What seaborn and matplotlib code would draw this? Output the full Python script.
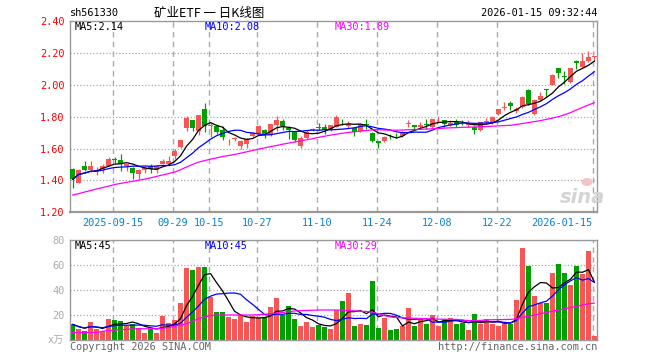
import numpy as np
import pandas as pd
import matplotlib
matplotlib.use("Agg")
import matplotlib.pyplot as plt
from matplotlib.patches import Ellipse
import seaborn as sns

# ---------------- data ----------------
open_ = [1.471, 1.385, 1.489, 1.464, 1.454, 1.472, 1.489, 1.535, 1.527, 1.489,
         1.479, 1.439, 1.464, 1.489, 1.464, 1.506, 1.506, 1.552, 1.610, 1.729,
         1.777, 1.710, 1.846, 1.740, 1.739, 1.718, 1.640, 1.660, 1.614, 1.631,
         1.677, 1.694, 1.718, 1.683, 1.746, 1.770, 1.729, 1.704, 1.614, 1.668,
         1.714, 1.735, 1.737, 1.715, 1.735, 1.768, 1.740, 1.731, 1.710, 1.754,
         1.698, 1.646, 1.650, 1.685, 1.691, 1.679, 1.754, 1.746, 1.735, 1.754,
         1.735, 1.796, 1.781, 1.746, 1.770, 1.767, 1.750, 1.737, 1.716, 1.768,
         1.762, 1.814, 1.854, 1.885, 1.835, 1.860, 1.969, 1.814, 1.902, 1.975,
         1.996, 2.106, 2.052, 2.017, 2.152, 2.110, 2.152, 2.173]
high = [1.479, 1.473, 1.520, 1.520, 1.485, 1.502, 1.548, 1.548, 1.564, 1.506,
        1.485, 1.469, 1.489, 1.506, 1.496, 1.537, 1.554, 1.594, 1.656, 1.802,
        1.781, 1.808, 1.885, 1.760, 1.745, 1.739, 1.662, 1.673, 1.656, 1.669,
        1.704, 1.745, 1.725, 1.756, 1.802, 1.783, 1.739, 1.708, 1.677, 1.714,
        1.731, 1.760, 1.756, 1.750, 1.808, 1.783, 1.770, 1.737, 1.756, 1.783,
        1.704, 1.646, 1.677, 1.689, 1.698, 1.710, 1.781, 1.746, 1.766, 1.783,
        1.787, 1.804, 1.781, 1.777, 1.787, 1.777, 1.777, 1.743, 1.768, 1.793,
        1.802, 1.850, 1.891, 1.896, 1.860, 1.927, 1.971, 1.912, 1.954, 1.975,
        2.069, 2.106, 2.089, 2.106, 2.158, 2.200, 2.214, 2.183]
low = [1.354, 1.381, 1.460, 1.452, 1.433, 1.448, 1.489, 1.512, 1.460, 1.460,
       1.412, 1.406, 1.448, 1.444, 1.448, 1.502, 1.502, 1.537, 1.606, 1.710,
       1.710, 1.683, 1.704, 1.675, 1.690, 1.656, 1.621, 1.648, 1.596, 1.604,
       1.673, 1.690, 1.669, 1.677, 1.710, 1.714, 1.662, 1.641, 1.604, 1.662,
       1.708, 1.714, 1.693, 1.708, 1.735, 1.746, 1.729, 1.677, 1.704, 1.725,
       1.641, 1.604, 1.642, 1.660, 1.668, 1.673, 1.735, 1.714, 1.725, 1.725,
       1.731, 1.766, 1.735, 1.740, 1.735, 1.746, 1.735, 1.693, 1.710, 1.756,
       1.756, 1.808, 1.839, 1.839, 1.823, 1.856, 1.874, 1.808, 1.896, 1.923,
       1.996, 2.044, 2.002, 2.010, 2.100, 2.110, 2.142, 2.152]
close = [1.406, 1.468, 1.464, 1.489, 1.468, 1.489, 1.533, 1.531, 1.502, 1.502,
         1.448, 1.464, 1.479, 1.469, 1.489, 1.523, 1.523, 1.585, 1.652, 1.791,
         1.731, 1.808, 1.739, 1.746, 1.704, 1.673, 1.642, 1.662, 1.648, 1.662,
         1.698, 1.739, 1.683, 1.752, 1.777, 1.739, 1.714, 1.656, 1.666, 1.704,
         1.725, 1.731, 1.714, 1.746, 1.798, 1.764, 1.752, 1.702, 1.752, 1.750,
         1.648, 1.637, 1.673, 1.683, 1.689, 1.704, 1.756, 1.735, 1.750, 1.750,
         1.783, 1.798, 1.752, 1.762, 1.750, 1.764, 1.752, 1.716, 1.764, 1.770,
         1.798, 1.845, 1.856, 1.866, 1.850, 1.923, 1.881, 1.902, 1.927, 1.969,
         2.062, 2.075, 2.048, 2.104, 2.135, 2.152, 2.173, 2.179]
volume = [12.5, 9, 7, 14.4, 9, 7, 17, 16, 15, 11,
          13, 10, 6, 9, 6, 19, 14, 16, 30, 58,
          56, 58.5, 58.5, 34.5, 22.5, 22.5, 18.5, 17, 20, 14.5,
          19, 17.6, 18.5, 26.5, 33.6, 20, 27, 17, 11, 14.4,
          10.4, 12, 10.4, 9, 24, 31.5, 38, 11, 13, 12,
          47, 10, 18, 8, 9, 11, 26, 11, 16.5, 13,
          20, 11, 16.5, 17.6, 13, 14, 8, 21, 13, 17,
          13, 11, 13.6, 13, 32, 74, 59, 35, 30, 30,
          54, 61, 54, 44, 59, 53, 71.5, 3]
# 30-day averages as drawn (they depend on days before the visible window)
ma30_price = [1.308, 1.317, 1.327, 1.336, 1.346, 1.355, 1.364, 1.374, 1.381, 1.388,
              1.394, 1.401, 1.408, 1.416, 1.425, 1.434, 1.443, 1.452, 1.467, 1.484,
              1.500, 1.515, 1.524, 1.533, 1.541, 1.550, 1.556, 1.563, 1.571, 1.579,
              1.588, 1.596, 1.604, 1.612, 1.619, 1.627, 1.634, 1.641, 1.648, 1.655,
              1.662, 1.670, 1.677, 1.684, 1.690, 1.696, 1.701, 1.705, 1.709, 1.713,
              1.717, 1.718, 1.716, 1.715, 1.715, 1.716, 1.718, 1.719, 1.721, 1.722,
              1.724, 1.726, 1.728, 1.730, 1.731, 1.733, 1.734, 1.735, 1.737, 1.738,
              1.740, 1.742, 1.744, 1.746, 1.751, 1.757, 1.763, 1.769, 1.775, 1.783,
              1.791, 1.800, 1.812, 1.825, 1.842, 1.858, 1.873, 1.888]
ma30_volume = [6, 6, 6, 6, 6, 7, 7.5, 8, 8.3, 8.5,
               8.8, 9, 9, 9, 9, 9.5, 10, 11, 12, 13,
               15, 17, 18.5, 19.5, 20, 20, 20, 20, 20, 20,
               20, 20.3, 20.6, 21, 21.5, 22, 22.7, 23.2, 23.5, 23.7,
               23.8, 24, 24, 24, 24, 23.8, 23.5, 23.3, 23, 22.8,
               22.3, 21, 19.5, 18.5, 18, 17.8, 17.6, 17.4, 17.2, 17,
               16.8, 16.7, 16.6, 16.5, 16.5, 16, 15.5, 15.5, 15.7, 16,
               16.2, 16.3, 16.4, 16.5, 17, 18, 19, 20, 21, 22,
               23, 24, 25, 26, 27, 28, 29, 29.5]
holidays = ["2025-10-01", "2025-10-02", "2025-10-03", "2025-10-06", "2025-10-07",
            "2025-10-08", "2026-01-01", "2026-01-02"]
tick_dates = ["2025-09-15", "2025-09-29", "2025-10-15", "2025-10-27", "2025-11-10",
              "2025-11-24", "2025-12-08", "2025-12-22", "2026-01-15"]
tick_labels = ["2025-09-15", "09-29", "10-15", "10-27", "11-10",
               "11-24", "12-08", "12-22", "2026-01-15"]
price_ticks = [1.20, 1.40, 1.60, 1.80, 2.00, 2.20, 2.40]
vol_ticks = [20, 40, 60, 80]
ma_price_labels = ["MA5:2.14", "MA10:2.08", "MA30:1.89"]
ma_vol_labels = ["MA5:45", "MA10:45", "MA30:29"]
code = "sh561330"
title = "矿业ETF 一 日K线图"
stamp = "2026-01-15 09:32:44"

# ---------------- styling ----------------
sns.set_theme(style="white")
plt.rcParams["font.family"] = ["DejaVu Sans Mono", "Noto Sans CJK SC"]
RED = "#f85656"
GREEN = "#00a000"
GRID = "#aaaaaa"
FS = 7.4

W, H = 660, 360
fig = plt.figure(figsize=(W / 100, H / 100), dpi=100)
fig.patch.set_facecolor("white")


def fx(x):
    return x / W


def fy(y):
    return 1 - y / H


L, R = 70, 597
ax = fig.add_axes([fx(L), fy(212.3), (R - L) / W, (212.3 - 21) / H])
axv = fig.add_axes([fx(L), fy(340), (R - L) / W, 100 / H])

dates = pd.bdate_range("2025-09-04", "2026-01-15")
dates = dates[~dates.isin(pd.to_datetime(holidays))]
df = pd.DataFrame(dict(date=dates, open=open_, high=high, low=low,
                       close=close, volume=volume,
                       ma30=ma30_price, vma30=ma30_volume))
df["i"] = np.arange(len(df))
df["dir"] = np.where(df["close"] >= df["open"], "up", "down")
df["ma5"] = df["close"].rolling(5, min_periods=1).mean()
df["ma10"] = df["close"].rolling(10, min_periods=1).mean()
df["vma5"] = df["volume"].rolling(5, min_periods=1).mean()
df["vma10"] = df["volume"].rolling(10, min_periods=1).mean()
colors = np.where(df["dir"] == "up", RED, GREEN)

xmin, xmax = -0.42, len(df) - 1 + 0.42
tick_pos = [int(df.index[df["date"] == pd.Timestamp(d)][0]) - 0.3 for d in tick_dates]

# ---------------- price panel ----------------
for a in (ax, axv):
    for p in tick_pos:
        a.axvline(p, color=GRID, lw=1.0, ls=(0, (4, 3)), zorder=0)
for t in price_ticks[1:-1]:
    ax.axhline(t, color=GRID, lw=0.9, ls=(0, (1, 1.6)), zorder=0)

ax.vlines(df["i"], df["low"], df["high"], colors=colors, lw=0.9, zorder=2)
body_low = np.minimum(df["open"], df["close"])
body_h = np.maximum((df["close"] - df["open"]).abs(), 0.004)
ax.bar(df["i"], body_h, bottom=body_low, width=0.78, color=colors, lw=0, zorder=3)

sns.lineplot(data=df, x="i", y="ma5", color="black", lw=0.9, ax=ax, estimator=None, zorder=4)
sns.lineplot(data=df, x="i", y="ma10", color="#0000ff", lw=0.9, ax=ax, estimator=None, zorder=4)
sns.lineplot(data=df, x="i", y="ma30", color="#ff00ff", lw=0.9, ax=ax, estimator=None, zorder=4)

ax.set_xlim(xmin, xmax)
ax.set_ylim(price_ticks[0], price_ticks[-1])
ax.set_yticks(price_ticks)
ax.set_yticklabels([f"{t:.2f}" for t in price_ticks], color="#ff0000", fontsize=FS)
ax.set_xticks(tick_pos)
ax.set_xticklabels(tick_labels, color="#0a80d0", fontsize=FS)
ax.get_xticklabels()[-1].set_horizontalalignment("right")
ax.get_xticklabels()[-1].set_x(tick_pos[-1] + 0.35)
ax.tick_params(axis="both", length=0, pad=4)
ax.set_xlabel("")
ax.set_ylabel("")

# sina watermark
fig.add_artist(Ellipse((fx(587), fy(182)), 11 / W, 8 / H, transform=fig.transFigure,
                       facecolor="#f4c4c4", edgecolor="none", zorder=1))
fig.text(fx(582), fy(197), "sina", fontsize=14, fontweight="bold", style="italic",
         color="#d4d4d4", ha="center", va="center", family="DejaVu Sans")

# ---------------- volume panel ----------------
for t in vol_ticks[:-1]:
    axv.axhline(t, color=GRID, lw=0.9, ls=(0, (1, 1.6)), zorder=0)
sns.barplot(data=df, x="i", y="volume", hue="dir", palette={"up": RED, "down": GREEN},
            native_scale=True, dodge=False, width=0.82, saturation=1, legend=False,
            linewidth=0, ax=axv, zorder=2)
sns.lineplot(data=df, x="i", y="vma5", color="black", lw=0.9, ax=axv, estimator=None, zorder=4)
sns.lineplot(data=df, x="i", y="vma10", color="#0000ff", lw=0.9, ax=axv, estimator=None, zorder=4)
sns.lineplot(data=df, x="i", y="vma30", color="#ff00ff", lw=0.9, ax=axv, estimator=None, zorder=4)
axv.set_xlim(xmin, xmax)
axv.set_ylim(0, vol_ticks[-1])
axv.set_yticks(vol_ticks)
axv.set_yticklabels([str(t) for t in vol_ticks], color="#aaaaaa", fontsize=FS)
axv.set_xticks([])
axv.tick_params(axis="both", length=0, pad=4)
axv.set_xlabel("")
axv.set_ylabel("")

for a in (ax, axv):
    a.set_facecolor("white")
    for s in a.spines.values():
        s.set_visible(True)
        s.set_color("#999999")
        s.set_linewidth(1.0)
ax.spines["bottom"].set_linewidth(1.6)

# ---------------- texts ----------------
fig.text(fx(70), fy(13.5), code, fontsize=FS, color="black", va="center", ha="left")
fig.text(fx(209), fy(13.5), title, fontsize=9, color="black", va="center", ha="center",
         family=["Noto Sans CJK SC", "DejaVu Sans"])
fig.text(fx(597), fy(13.5), stamp, fontsize=FS, color="black", va="center", ha="right")

ma_cols = ["black", "#0000ff", "#ff00ff"]
for lab, col, x in zip(ma_price_labels, ma_cols, (75, 205, 335)):
    fig.text(fx(x), fy(27), lab, fontsize=FS, color=col, va="center", ha="left")
for lab, col, x in zip(ma_vol_labels, ma_cols, (75, 205, 335)):
    fig.text(fx(x), fy(246), lab, fontsize=FS, color=col, va="center", ha="left")

fig.text(fx(64), fy(340), "x万", fontsize=FS, color="#aaaaaa", va="center", ha="right",
         family=["DejaVu Sans Mono", "Noto Sans CJK SC"])
fig.text(fx(70), fy(347), "Copyright 2026 SINA.COM", fontsize=FS, color="#666666",
         va="center", ha="left")
fig.text(fx(597), fy(347), "http://finance.sina.com.cn", fontsize=FS, color="#666666",
         va="center", ha="right")

fig.savefig("out.png", dpi=100, facecolor="white")
